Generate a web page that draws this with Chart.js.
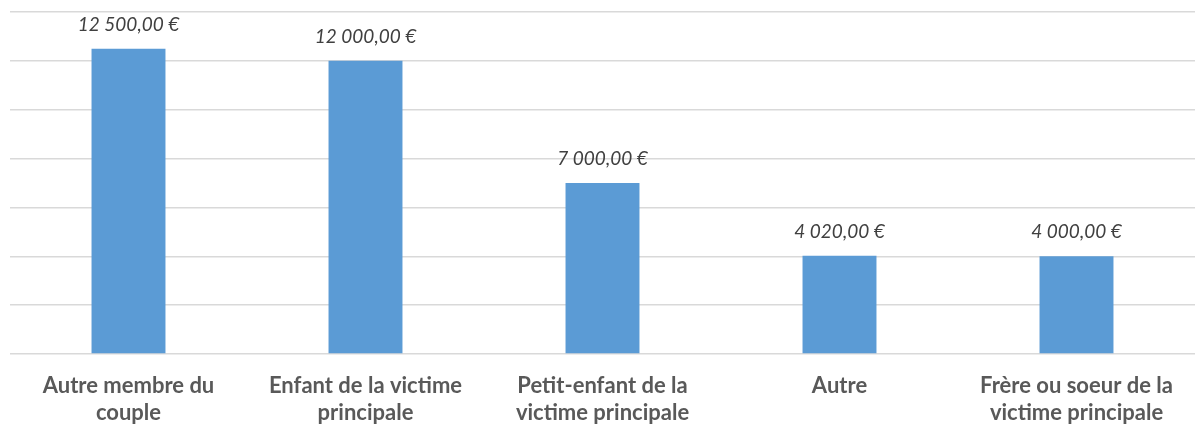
<!DOCTYPE html>
<html>
<head>
<meta charset="utf-8">
<script src="https://cdn.jsdelivr.net/npm/chart.js@4"></script>
<style>
html,body{margin:0;padding:0;background:#fff;}
#wrap{width:1195px;height:431px;position:relative;}
</style>
</head>
<body>
<div id="wrap"><canvas id="c" width="1195" height="431"></canvas></div>
<script>
const categories = [
  ["Autre membre du", "couple"],
  ["Enfant de la victime", "principale"],
  ["Petit-enfant de la", "victime principale"],
  ["Autre"],
  ["Frère ou soeur de la", "victime principale"]
];
const values = [12500, 12000, 7000, 4020, 4000];
const valueLabels = ["12 500,00 €", "12 000,00 €", "7 000,00 €", "4 020,00 €", "4 000,00 €"];

const labelPlugin = {
  id: 'valueLabels',
  afterDatasetsDraw(chart) {
    const ctx = chart.ctx;
    const meta = chart.getDatasetMeta(0);
    ctx.save();
    ctx.font = 'italic 19px Lato, "Open Sans", sans-serif';
    ctx.fillStyle = '#404040';
    ctx.textAlign = 'center';
    ctx.textBaseline = 'middle';
    meta.data.forEach((bar, i) => {
      ctx.fillText(valueLabels[i], bar.x, bar.y - 24);
    });
    ctx.restore();
  }
};

new Chart(document.getElementById('c'), {
  type: 'bar',
  data: {
    labels: categories,
    datasets: [{
      data: values,
      backgroundColor: '#5b9bd5',
      borderWidth: 0,
      barPercentage: 0.312,
      categoryPercentage: 1.0
    }]
  },
  options: {
    responsive: false,
    animation: false,
    layout: { padding: { left: 10, right: 0, top: 12, bottom: 0 } },
    plugins: { legend: { display: false }, tooltip: { enabled: false } },
    scales: {
      x: {
        grid: { display: false },
        border: { display: false },
        afterFit(scale) { scale.height = 77; },
        ticks: {
          color: '#595959',
          font: { family: 'Lato, "Open Sans", sans-serif', size: 22, weight: 'bold', lineHeight: 1.23 },
          padding: 10,
          maxRotation: 0,
          autoSkip: false
        }
      },
      y: {
        min: 0, max: 14000,
        ticks: { display: false, stepSize: 2000 },
        border: { display: false },
        grid: { color: '#d9d9d9', lineWidth: 1.5, drawTicks: false }
      }
    }
  },
  plugins: [labelPlugin]
});
</script>
</body>
</html>
